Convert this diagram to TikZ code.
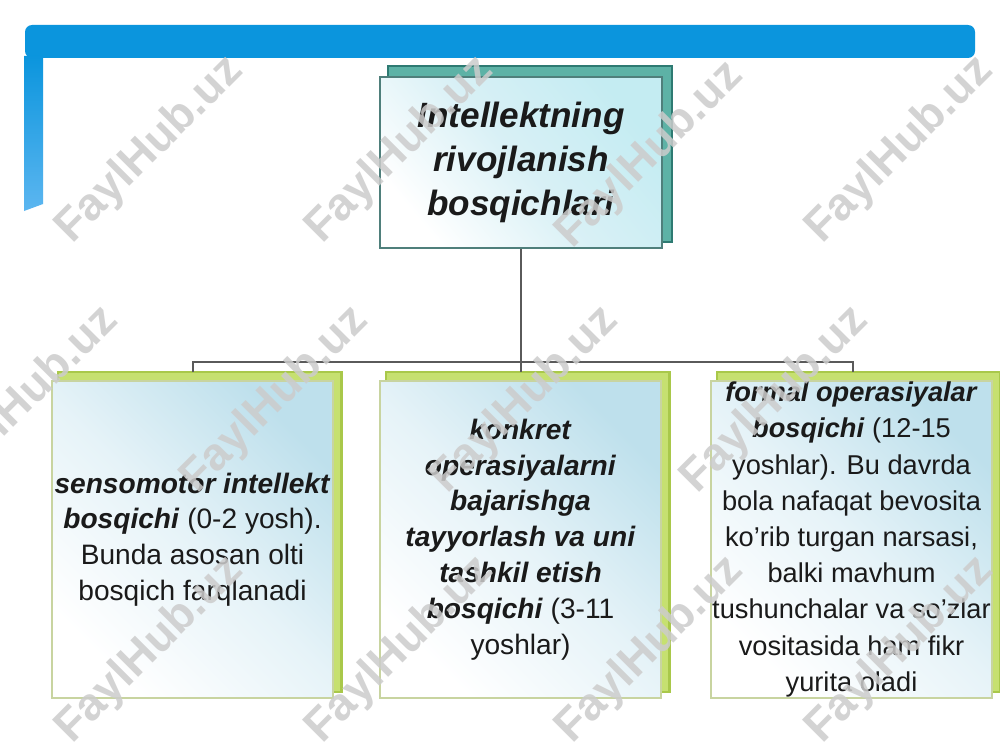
\documentclass[tikz,border=0pt]{standalone}
\usepackage{fontspec}
\setmainfont{Liberation Sans}
\usetikzlibrary{calc}
\definecolor{bandblue}{HTML}{0B95DD}
\definecolor{striplo}{HTML}{5CB6F0}
\definecolor{tealback}{HTML}{5DB2A6}
\definecolor{tealdark}{HTML}{2E7A72}
\definecolor{topedge}{HTML}{4F7F7B}
\definecolor{topfill}{HTML}{C4ECF2}
\definecolor{greenback}{HTML}{C6E070}
\definecolor{greenline}{HTML}{A9C84A}
\definecolor{greenedge}{HTML}{C8D4A0}
\definecolor{boxfill}{HTML}{BEE0EC}
\definecolor{boxmid}{HTML}{E6F3F8}
\definecolor{connc}{HTML}{5A5A5A}
\definecolor{txt}{HTML}{1A1A1A}
\definecolor{wmc}{HTML}{CCCCCC}
\begin{document}
\begin{tikzpicture}[x=0.02cm,y=-0.02cm,
  topbox/.style={draw=topedge, line width=1.2pt, top color=topfill, bottom color=white, middle color=boxmid!60!topfill, shading angle=-50,
    minimum width=5.64cm, minimum height=3.42cm, inner sep=0pt, align=center, text=txt,
    font=\fontsize{20}{25}\selectfont\bfseries\itshape},
  stagebox/.style={draw=greenedge, line width=1.4pt, top color=boxfill, bottom color=white, middle color=boxmid, shading angle=-45,
    minimum width=5.62cm, minimum height=6.34cm, inner sep=0pt, align=center, text=txt,
    font=\fontsize{16}{20.4}\selectfont},
  backteal/.style={draw=tealdark, fill=tealback, line width=1.5pt},
  backgreen/.style={draw=greenline, fill=greenback, line width=1.2pt},
  conn/.style={draw=connc, line width=1.6pt},
  wm/.style={text=wmc, opacity=0.85, rotate=45, font=\fontsize{26}{26}\selectfont\bfseries}
]
\useasboundingbox (0,0) rectangle (1000,750);
\fill[white] (0,0) rectangle (1000,750);

% slide header band
\fill[bandblue, rounded corners=4pt] (25,25) rectangle (975,58);
\shade[top color=bandblue, bottom color=striplo] (24,56) -- (43,56) -- (43,204) -- (24,211) -- cycle;

% top box
\coordinate (topc) at (521,162.5);
\path[backteal] ($(topc)+(-133,-96.5)$) rectangle ($(topc)+(151,79.5)$);
\node[topbox] (top) at (topc) {Intellektning\\rivojlanish\\bosqichlari};

% stage boxes (back plates)
\foreach \cx in {192.5,520.5,851.5}{
  \path[backgreen] (\cx-134.5,372) rectangle (\cx+149,692);
}
\node[stagebox] (b1) at (192.5,539.5)
  {\textbf{\textit{sensomotor intellekt}}\\\textbf{\textit{bosqichi}} (0-2 yosh).\\Bunda asosan olti\\bosqich farqlanadi};
\node[stagebox] (b2) at (520.5,539.5)
  {\textbf{\textit{konkret}}\\\textbf{\textit{operasiyalarni}}\\\textbf{\textit{bajarishga}}\\\textbf{\textit{tayyorlash va uni}}\\\textbf{\textit{tashkil etish}}\\\textbf{\textit{bosqichi}} (3-11\\yoshlar)};
\node[stagebox, font=\fontsize{15.5}{20.6}\selectfont] (b3) at (851.5,539.5)
  {\textbf{\textit{formal operasiyalar}}\\\textbf{\textit{bosqichi}} (12-15\\yoshlar). Bu davrda\\bola nafaqat bevosita\\ko'rib turgan narsasi,\\balki mavhum\\tushunchalar va so'zlar\\vositasida ham fikr\\yurita oladi};

% connectors
\coordinate (busL) at (193,362);
\coordinate (busR) at (853,362);
\draw[conn] (top.south) -- (top.south |- 0,372);
\draw[conn] (busL |- 0,372) -- (busL) -- (busR) -- (busR |- 0,372);

% watermarks
\foreach \p in {(150,150),(400,150),(650,155),(900,150),(25,400),(275,400),(525,400),(775,400),(150,650),(400,650),(650,650),(900,650)}{
  \node[wm] at \p {FaylHub.uz};
}
\end{tikzpicture}
\end{document}
